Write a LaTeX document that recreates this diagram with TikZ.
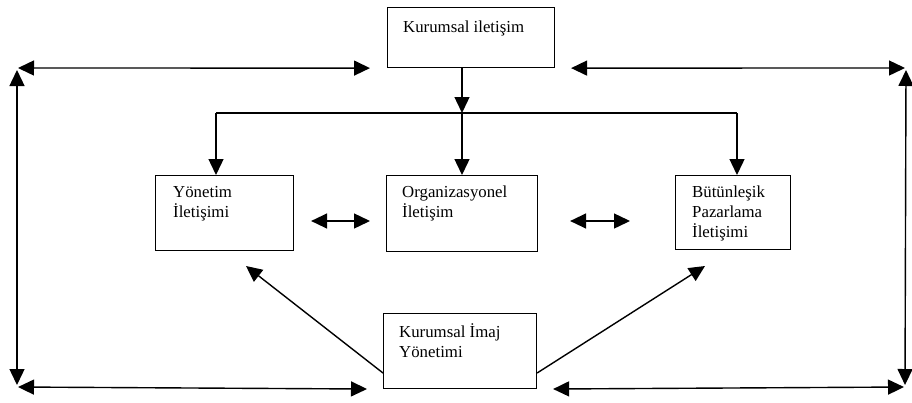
\documentclass[tikz,border=0pt]{standalone}
\usepackage{fontspec}
\setmainfont{Liberation Serif}
\usetikzlibrary{arrows.meta}
\begin{document}
\begin{tikzpicture}[x=1pt,y=-1pt,
  box/.style={draw, line width=1.1pt, inner sep=0pt, anchor=north west},
  lbl/.style={anchor=north west, inner sep=0pt, align=left, font=\fontsize{16.8}{20}\selectfont},
  conn/.style={line width=1.4pt},
  tip/.style={conn, -{Triangle[length=16pt,width=15pt]}},
  dtip/.style={conn, {Triangle[length=16pt,width=15pt]}-{Triangle[length=16pt,width=15pt]}}]
\useasboundingbox (0,0) rectangle (912,402);

% boxes
\node[box, minimum width=167pt, minimum height=60pt] (kur) at (387,7) {};
\node[box, minimum width=138pt, minimum height=75pt] (yon) at (155,175) {};
\node[box, minimum width=151pt, minimum height=76pt] (org) at (386,175) {};
\node[box, minimum width=115pt, minimum height=74pt] (but) at (675,175) {};
\node[box, minimum width=153pt, minimum height=75pt] (ima) at (383,313) {};

% labels
\node[lbl] (tkur) at ([shift={(16,11)}]kur.north west) {\strut Kurumsal iletişim};
\node[lbl] (tyon) at ([shift={(18,8)}]yon.north west) {\strut Yönetim\\İletişimi};
\node[lbl] (torg) at ([shift={(16,8)}]org.north west) {\strut Organizasyonel\\İletişim};
\node[lbl] (tbut) at ([shift={(17,8)}]but.north west) {\strut Bütünleşik\\Pazarlama\\İletişimi};
\node[lbl] (tima) at ([shift={(16,10)}]ima.north west) {\strut Kurumsal İmaj\\Yönetimi};

% helper coordinates
\coordinate (jl) at (216,113);
\coordinate (jm) at (462,113);
\coordinate (jr) at (737,113);
\coordinate (mid) at (0,221);
\coordinate (dy) at (0,373);
\coordinate (dl) at (246,266);
\coordinate (dr) at (705,266);
\coordinate (tl) at (17,68);
\coordinate (tr) at (906,68);
\coordinate (bl) at (17,387);
\coordinate (br) at (905,387);

% distribution
\draw[tip] (kur.south -| jm) -- (jm);
\draw[conn] (jl) -- (jr);
\draw[tip] (jl) -- (jl |- yon.north);
\draw[tip] (jm) -- (jm |- org.north);
\draw[tip] (jr) -- (jr |- but.north);

% middle double arrows
\draw[dtip, shorten <=17pt, shorten >=16pt] (yon.east |- mid) -- (org.west |- mid);
\draw[dtip, shorten <=32pt, shorten >=45pt] (org.east |- mid) -- (but.west |- mid);

% diagonals
\draw[tip] (ima.west |- dy) -- (dl);
\draw[tip] (ima.east |- dy) -- (dr);

% frame arrows
\draw[dtip, shorten <=1pt, shorten >=17pt] (tl) -- (kur.south west);
\draw[dtip, shorten <=16pt, shorten >=1pt] (kur.south east) -- (tr);
\draw[dtip, shorten <=2pt, shorten >=2pt] (tl) -- (bl);
\draw[dtip, shorten <=2pt, shorten >=2pt] (tr) -- (br);
\draw[dtip, shorten <=1pt, shorten >=16pt] (bl) -- (ima.south west);
\draw[dtip, shorten <=16pt, shorten >=1pt] (ima.south east) -- (br);
\end{tikzpicture}
\end{document}
